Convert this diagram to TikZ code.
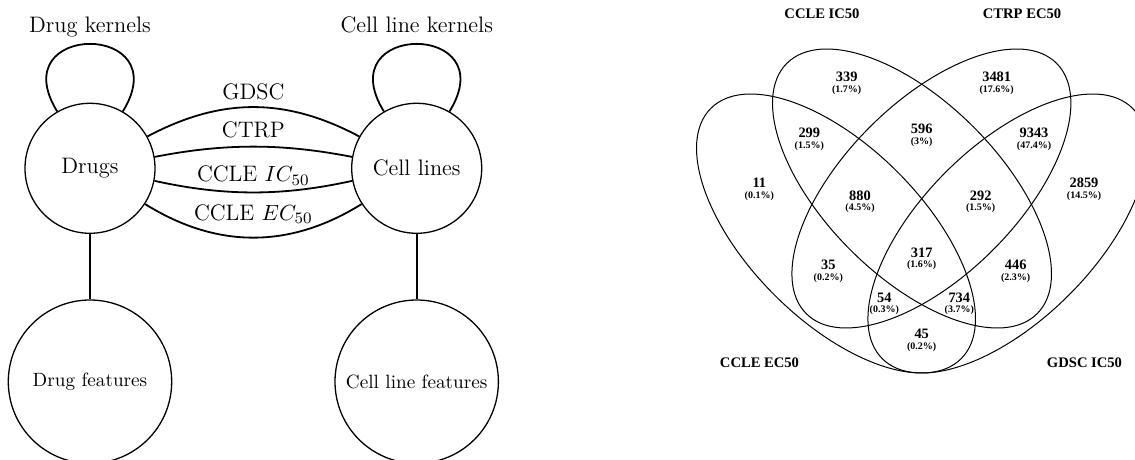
\documentclass[tikz,border=0pt]{standalone}
\usepackage{fontspec}
\newfontfamily\vennfont{Liberation Serif}
\newcommand\vreg[5]{%
  \node[vnum] (#1) at (#2,#3+5) {#4};
  \node[vpct] (#1p) at (#2,#3+15.9) {(#5\%)};}
\begin{document}
\begin{tikzpicture}[x=0.5pt, y=-0.5pt,
  ent/.style={circle, draw, line width=0.65pt, inner sep=0pt, minimum size=65pt, font=\fontsize{11.2pt}{13.5pt}\selectfont},
  feat/.style={circle, draw, line width=0.65pt, inner sep=0pt, minimum size=81.7pt, font=\fontsize{9.6pt}{11.5pt}\selectfont},
  lab/.style={font=\fontsize{11.2pt}{13.5pt}\selectfont, anchor=base, inner sep=0pt},
  conn/.style={line width=0.9pt},
  vline/.style={line width=0.5pt},
  vcat/.style={font=\vennfont\bfseries\fontsize{7.3pt}{9pt}\selectfont, anchor=base, inner sep=0pt},
  vnum/.style={font=\vennfont\bfseries\fontsize{7.2pt}{8.5pt}\selectfont, anchor=base, inner sep=0pt},
  vpct/.style={font=\vennfont\bfseries\fontsize{5pt}{6pt}\selectfont, anchor=base, inner sep=0pt}]
\useasboundingbox (0,0) rectangle (1135,460);
% ---------- left: graph ----------
\node[ent] (drugs) at (90,168.3) {Drugs};
\node[ent] (cells) at (416.7,168.3) {Cell lines};
\node[feat] (dfeat) at (90,381.7) {Drug features};
\node[feat] (cfeat) at (416.7,381.7) {Cell line features};
\node[lab] (dker) at (90,32.3) {Drug kernels};
\node[lab] (cker) at (416.7,32.3) {Cell line kernels};
\draw[conn] (drugs.120) .. controls +(-55.5,-90.1) and +(55.5,-90.1) .. (drugs.60);
\draw[conn] (cells.120) .. controls +(-55.5,-90.1) and +(55.5,-90.1) .. (cells.60);
\draw[conn] (drugs.29) .. controls +(73.7,-39.2) and +(-73.7,-39.2) .. (cells.151)
  node[lab, pos=0.5, yshift=4pt] (lgdsc) {GDSC};
\draw[conn] (drugs.10) .. controls +(70,-13.7) and +(-70,-13.7) .. (cells.170)
  node[lab, pos=0.5, yshift=4.5pt] (lctrp) {CTRP};
\draw[conn] (drugs.-11) .. controls +(70,15.5) and +(-70,15.5) .. (cells.191)
  node[lab, pos=0.5, yshift=5.3pt] (lic) {CCLE $IC_{50}$};
\draw[conn] (drugs.-33) .. controls +(72,44.8) and +(-72,44.8) .. (cells.213)
  node[lab, pos=0.5, yshift=8.65pt] (lec) {CCLE $EC_{50}$};
\draw[conn] (drugs.south) -- (dfeat.north);
\draw[conn] (cells.south) -- (cfeat.north);
% ---------- right: Venn diagram ----------
\coordinate (cA) at (836,233.5);
\coordinate (cB) at (912,188.5);
\coordinate (cC) at (931.4,188.5);
\coordinate (cD) at (1007.4,233.5);
\draw[vline, rotate around={-45:(cA)}] (cA) ellipse (88.5pt and 43.5pt);
\draw[vline, rotate around={-45:(cB)}] (cB) ellipse (88.5pt and 43.5pt);
\draw[vline, rotate around={45:(cC)}] (cC) ellipse (88.5pt and 43.5pt);
\draw[vline, rotate around={45:(cD)}] (cD) ellipse (88.5pt and 43.5pt);
\node[vcat] (catB) at (822,18.8) {CCLE IC50};
\node[vcat] (catC) at (1022,18.8) {CTRP EC50};
\node[vcat] (catA) at (759.5,367.8) {CCLE EC50};
\node[vcat] (catD) at (1084.5,367.8) {GDSC IC50};
\vreg{r339}{846.7}{76.7}{339}{1.7}
\vreg{r3481}{996.7}{76.7}{3481}{17.6}
\vreg{r299}{809.3}{132.7}{299}{1.5}
\vreg{r596}{921.7}{128.7}{596}{3}
\vreg{r9343}{1034}{132.7}{9343}{47.4}
\vreg{r11}{759.3}{182.7}{11}{0.1}
\vreg{r880}{860}{195}{880}{4.5}
\vreg{r292}{980.7}{195}{292}{1.5}
\vreg{r2859}{1084}{182.7}{2859}{14.5}
\vreg{r317}{921.7}{252}{317}{1.6}
\vreg{r35}{828.3}{264.3}{35}{0.2}
\vreg{r446}{1015.7}{264.3}{446}{2.3}
\vreg{r54}{884.3}{297}{54}{0.3}
\vreg{r734}{959.3}{297}{734}{3.7}
\vreg{r45}{921.7}{333.3}{45}{0.2}
\end{tikzpicture}
\end{document}
